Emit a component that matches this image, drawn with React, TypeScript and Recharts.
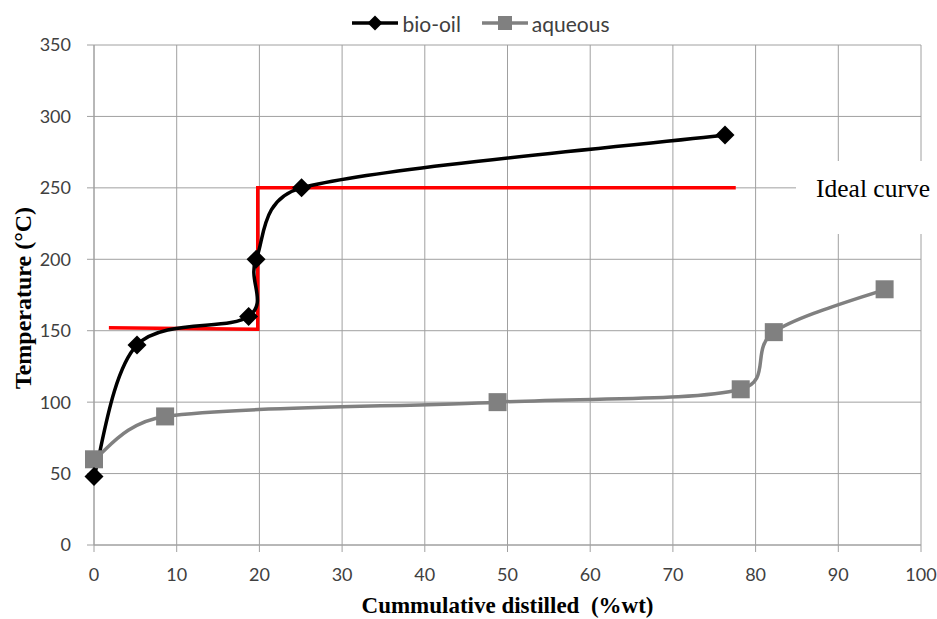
import { LineChart, Line, XAxis, YAxis, CartesianGrid, Legend, Label } from "recharts";

// values
const bioX = [0, 5.2, 18.7, 19.6, 25.1, 76.3];
const bioY = [48, 140, 160, 200, 250, 287];
const aqX = [0, 8.6, 48.8, 78.2, 82.2, 95.6];
const aqY = [60, 90, 100, 109, 149, 179];
const idealX = [1.8, 19.8, 19.8, 77.6];
const idealY = [152, 151, 250, 250];
const xTicks = [0, 10, 20, 30, 40, 50, 60, 70, 80, 90, 100];
const yTicks = [0, 50, 100, 150, 200, 250, 300, 350];

const bioData = bioX.map((x, i) => ({ x, y: bioY[i] }));
const aqData = aqX.map((x, i) => ({ x, y: aqY[i] }));
const idealData = idealX.map((x, i) => ({ x, y: idealY[i] }));

const GRID = "#a0a0a0";
const TICK_FONT = "Lato, 'Open Sans', sans-serif";
const SERIF = "'Liberation Serif', 'DejaVu Serif', serif";

const dist = (a: number[], b: number[]) => Math.hypot(a[0] - b[0], a[1] - b[1]);

// Excel-like smoothed line: bezier through the points, control arms capped
const excelSmooth = (context: any) => {
  let pts: number[][] = [];
  return {
    areaStart() {},
    areaEnd() {},
    lineStart() {
      pts = [];
    },
    point(x: number, y: number) {
      pts.push([+x, +y]);
    },
    lineEnd() {
      if (!pts.length) return;
      context.moveTo(pts[0][0], pts[0][1]);
      for (let i = 0; i < pts.length - 1; i++) {
        const p0 = pts[Math.max(i - 1, 0)];
        const p1 = pts[i];
        const p2 = pts[i + 1];
        const p3 = pts[Math.min(i + 2, pts.length - 1)];
        const d12 = dist(p1, p2);
        const d02 = dist(p0, p2) || 1;
        const d13 = dist(p1, p3) || 1;
        const f1 = Math.min(1 / 6, d12 / (2 * d02));
        const f2 = Math.min(1 / 6, d12 / (2 * d13));
        context.bezierCurveTo(
          p1[0] + (p2[0] - p0[0]) * f1,
          p1[1] + (p2[1] - p0[1]) * f1,
          p2[0] - (p3[0] - p1[0]) * f2,
          p2[1] - (p3[1] - p1[1]) * f2,
          p2[0],
          p2[1]
        );
      }
    },
  };
};

const Diamond = ({ cx, cy, s = 9.5, fill = "#000" }: any) => (
  <polygon
    points={`${cx},${cy - s} ${cx + s},${cy} ${cx},${cy + s} ${cx - s},${cy}`}
    fill={fill}
  />
);

const Square = ({ cx, cy, s = 9, fill = "#808080" }: any) => (
  <rect x={cx - s} y={cy - s} width={s * 2} height={s * 2} fill={fill} />
);

const legendItems = [
  { name: "bio-oil", color: "#000000", marker: "diamond" },
  { name: "aqueous", color: "#808080", marker: "square" },
];

const LegendContent = () => (
  <div style={{ height: 37, display: "flex", justifyContent: "center", alignItems: "flex-start", paddingLeft: 40 }}>
    {legendItems.map((it) => (
      <div key={it.name} style={{ display: "flex", alignItems: "center", height: 30, marginLeft: 10, marginRight: 10 }}>
        <svg width={48} height={20}>
          <line x1={1} y1={10} x2={47} y2={10} stroke={it.color} strokeWidth={3.5} />
          {it.marker === "diamond" ? (
            <Diamond cx={24} cy={10} s={7.5} fill={it.color} />
          ) : (
            <Square cx={24} cy={10} s={7} fill={it.color} />
          )}
        </svg>
        <span style={{ fontFamily: TICK_FONT, fontSize: 21, color: "#404040", marginLeft: 3 }}>{it.name}</span>
      </div>
    ))}
  </div>
);

export default function App() {
  return (
    <div style={{ position: "absolute", left: 0, top: 0, width: 937, height: 619, background: "#fff" }}>
      <LineChart width={937} height={619} margin={{ top: 8, right: 16, bottom: 0, left: 0 }}>
        <CartesianGrid stroke={GRID} strokeWidth={1} />
        <XAxis
          type="number"
          dataKey="x"
          domain={[0, 100]}
          ticks={xTicks}
          interval={0}
          height={74}
          tickSize={7}
          stroke={GRID}
          tick={{ fill: "#404040", fontSize: 18, fontFamily: TICK_FONT }}
          tickMargin={16}
        >
          <Label
            content={({ viewBox }: any) => (
              <text
                x={viewBox.x + viewBox.width / 2}
                y={613}
                textAnchor="middle"
                fontFamily={SERIF}
                fontWeight="bold"
                fontSize={23}
                fill="#000"
              >
                {"Cummulative distilled\u00a0 (%wt)"}
              </text>
            )}
          />
        </XAxis>
        <YAxis
          type="number"
          domain={[0, 350]}
          ticks={yTicks}
          interval={0}
          width={94}
          tickSize={7}
          stroke={GRID}
          tick={{ fill: "#404040", fontSize: 18, fontFamily: TICK_FONT }}
          tickMargin={16}
        >
          <Label
            content={({ viewBox }: any) => {
              const cx = 23;
              const cy = viewBox.y + viewBox.height / 2 + 3;
              return (
                <text
                  x={cx}
                  y={cy}
                  transform={`rotate(-90 ${cx} ${cy})`}
                  textAnchor="middle"
                  dominantBaseline="central"
                  fontFamily={SERIF}
                  fontWeight="bold"
                  fontSize={24}
                  fill="#000"
                >
                  Temperature (°C)
                </text>
              );
            }}
          />
        </YAxis>
        <Legend verticalAlign="top" align="center" content={<LegendContent />} />
        <Line
          data={idealData}
          dataKey="y"
          type="linear"
          stroke="#ff0000"
          strokeWidth={3.5}
          dot={false}
          legendType="none"
          isAnimationActive={false}
        />
        <Line
          data={aqData}
          dataKey="y"
          name="aqueous"
          type={excelSmooth as any}
          stroke="#808080"
          strokeWidth={3.5}
          dot={(p: any) => <Square key={`aq-${p.index}`} cx={p.cx} cy={p.cy} />}
          isAnimationActive={false}
        />
        <Line
          data={bioData}
          dataKey="y"
          name="bio-oil"
          type={excelSmooth as any}
          stroke="#000000"
          strokeWidth={3.5}
          dot={(p: any) => <Diamond key={`bio-${p.index}`} cx={p.cx} cy={p.cy} />}
          isAnimationActive={false}
        />
      </LineChart>
      <div
        style={{
          position: "absolute",
          left: 796,
          top: 161,
          width: 141,
          height: 73,
          background: "#fff",
          fontFamily: SERIF,
          fontSize: 25.5,
          color: "#000",
          boxSizing: "border-box",
          paddingLeft: 20,
          paddingTop: 13,
          whiteSpace: "nowrap",
        }}
      >
        Ideal curve
      </div>
    </div>
  );
}
